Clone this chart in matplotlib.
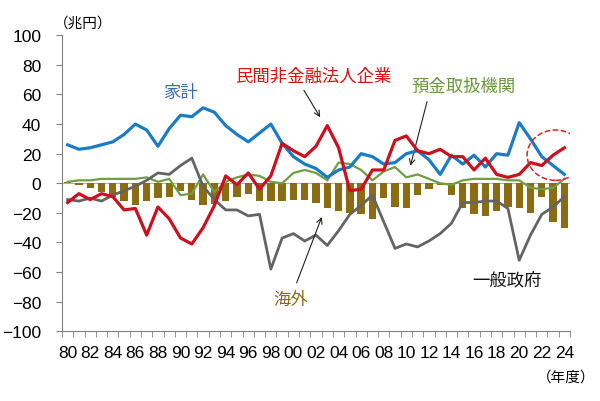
import numpy as np
import matplotlib
matplotlib.use("Agg")
import matplotlib.pyplot as plt
from matplotlib.patches import Ellipse

plt.rcParams['font.family'] = ['Noto Sans CJK JP', 'DejaVu Sans']

# fiscal years 1980-2024 (兆円)
years = list(range(1980, 2025))
year_labels = ["%02d" % (y % 100) if y % 2 == 0 else "" for y in years]

household = [26, 23, 24, 26, 28, 33, 40, 36, 25, 37, 46, 45, 51, 48, 39, 33, 28, 34, 40, 27,
             18, 13, 10, 4, 9, 11, 20, 18, 13, 14, 20, 22, 16, 6, 19, 13, 19, 11, 20, 19,
             41, 30, 18, 12, 6]
corporate = [-13, -7, -11, -7, -9, -18, -17, -35, -16, -24, -37, -41, -30, -15, 5, -1, 7, -4, 5, 27,
             22, 18, 25, 39, 24, -5, -4, 9, 9, 29, 32, 22, 20, 23, 18, 18, 9, 17, 6, 4,
             6, 14, 12, 19, 24]
banks = [1, 2, 2, 3, 3, 3, 3, 4, 1, 3, -8, -7, 6, -6, 1, 4, 6, 5, 1, 0,
         7, 9, 7, 2, 14, 13, 9, 2, 8, 11, 4, 6, 3, 0, -1, 2, 3, 3, 3, 2,
         2, -3, -4, -3, 3]
government = [-11, -12, -10, -12, -8, -5, -2, 2, 7, 6, 12, 17, -2, -11, -18, -18, -22, -21, -58, -37,
              -34, -39, -35, -42, -32, -21, -15, -8, -26, -44, -41, -43, -39, -34, -27, -13, -13, -12, -12, -17,
              -52, -35, -21, -16, -9]
overseas = [1, -1, -3, -6, -9, -12, -15, -12, -10, -9, -5, -11, -15, -14, -12, -9, -7, -12, -12, -12,
            -11, -11, -13, -17, -19, -20, -21, -24, -10, -16, -17, -8, -4, -1, -8, -17, -21, -22, -19, -16,
            -17, -20, -9, -26, -30]

x = np.arange(len(years))

fig = plt.figure(figsize=(6.0, 4.02), dpi=100)
ax = fig.add_axes([0.1033, 0.1734, 0.8467, 0.7363])

ax.axhline(0, color="#b0b0b0", lw=0.8, zorder=1)
ax.bar(x, overseas, width=0.65, color="#8b6c12", zorder=2)
ax.plot(x, banks, color="#6f9e45", lw=1.6, zorder=3)
ax.plot(x, government, color="#646464", lw=2.0, zorder=3)
ax.plot(x, household, color="#1a7cc6", lw=2.3, zorder=4)
ax.plot(x, corporate, color="#cc1020", lw=2.3, zorder=5)

ax.set_xlim(-0.5, len(years) - 0.5)
ax.set_ylim(-100, 100)
ax.set_yticks(np.arange(-100, 101, 20))
ax.set_xticks(x)
ax.set_xticklabels(year_labels)
ax.set_xticks(np.arange(-0.5, len(years), 1), minor=True)
ax.tick_params(axis="x", which="major", length=0, pad=10)
ax.tick_params(axis="x", which="minor", length=4, direction="out", color="#808080")
ax.tick_params(axis="y", length=4, color="#808080", pad=11)
for lab in ax.get_xticklabels() + ax.get_yticklabels():
    lab.set_family(['Liberation Sans', 'DejaVu Sans'])
    lab.set_fontsize(12.5)

for s in ["top", "right"]:
    ax.spines[s].set_visible(False)
for s in ["left", "bottom"]:
    ax.spines[s].set_color("#808080")

ax.text(10.0, 62, "家計", color="#3b6db5", fontsize=12.5, ha="center", va="center")
ax.text(21.8, 73, "民間非金融法人企業", color="#dd1111", fontsize=12.5, ha="center", va="center")
ax.annotate("", xy=(22.5, 43), xytext=(20.8, 64.5),
            arrowprops=dict(arrowstyle="->", color="#222222", lw=0.8))
ax.text(35.1, 66, "預金取扱機関", color="#6a9a3a", fontsize=12.5, ha="center", va="center")
ax.annotate("", xy=(30.3, 10), xytext=(31.9, 57),
            arrowprops=dict(arrowstyle="->", color="#222222", lw=0.8))
ax.text(19.8, -78, "海外", color="#8b6c12", fontsize=12.5, ha="center", va="center")
ax.annotate("", xy=(22.6, -21), xytext=(20.2, -69),
            arrowprops=dict(arrowstyle="->", color="#222222", lw=0.8))
ax.text(38.9, -65, "一般政府", color="#111111", fontsize=12.5, ha="center", va="center")

ax.add_patch(Ellipse((43.2, 19), 5.0, 34, fill=False, ec="#dd2222", ls="--", lw=1.1, zorder=6))

fig.text(83 / 600, 1 - 24 / 402, "（兆円）", fontsize=10.5, ha="center", va="center")
fig.text(566 / 600, 1 - 378 / 402, "（年度）", fontsize=10.5, ha="center", va="center")

fig.savefig("out.png", dpi=100)
